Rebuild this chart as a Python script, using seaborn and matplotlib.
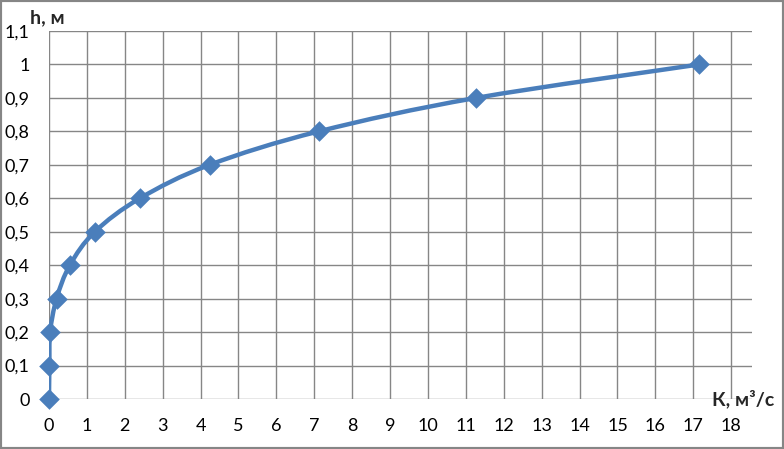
import numpy as np
import pandas as pd
import matplotlib.pyplot as plt
import seaborn as sns
from matplotlib.path import Path
from matplotlib.patches import PathPatch, Rectangle
from matplotlib.ticker import FuncFormatter

# расход К (м3/с) и глубина h (м)
K = [0.0, 0.01, 0.03, 0.2, 0.55, 1.21, 2.40, 4.24, 7.12, 11.27, 17.16]
h = [0.0, 0.1, 0.2, 0.3, 0.4, 0.5, 0.6, 0.7, 0.8, 0.9, 1.0]
df = pd.DataFrame({'K': K, 'h': h})

sns.set_style("white")
plt.rcParams['font.family'] = ['Lato', 'DejaVu Sans']
color = '#4A7EBB'
grid = '#868686'

fig = plt.figure(figsize=(7.84, 4.49), dpi=100)
ax = fig.add_axes([49/784, 1 - 399/449, (752 - 49)/784, (399 - 31)/449])

# сглаженная линия как в Excel (кривые Безье)
pts = df[['K', 'h']].to_numpy()
verts = [pts[0]]
codes = [Path.MOVETO]
n = len(pts)
for i in range(n - 1):
    p0 = pts[i - 1] if i > 0 else pts[i]
    p1, p2 = pts[i], pts[i + 1]
    p3 = pts[i + 2] if i + 2 < n else pts[i + 1]
    verts += [p1 + (p2 - p0) / 6, p2 - (p3 - p1) / 6, p2]
    codes += [Path.CURVE4] * 3
ax.add_patch(PathPatch(Path(verts, codes), fill=False, edgecolor=color,
                       lw=3.2, capstyle='round', zorder=3))

sns.scatterplot(data=df, x='K', y='h', marker='D', s=110, color=color,
                edgecolor=color, linewidth=0, ax=ax, zorder=4, clip_on=False)

ax.set_xlim(0, 18.55)
ax.set_ylim(0, 1.1)
ax.set_xticks(range(0, 19))
ax.set_yticks(np.round(np.arange(0, 1.11, 0.1), 1))
ax.yaxis.set_major_formatter(FuncFormatter(lambda v, p: f'{v:g}'.replace('.', ',')))
ax.grid(True, color=grid, lw=1)
ax.set_axisbelow(True)
for s in ax.spines.values():
    s.set_visible(False)
ax.tick_params(axis='both', length=5, width=1, color=grid, labelsize=13,
               direction='out', pad=9, labelcolor='black')
ax.set_xlabel('')
ax.set_ylabel('')

fig.text(30/784, 1 - 18/449, 'h, м', fontsize=14, fontweight='bold', va='center')
fig.text(712/784, 1 - 399/449, 'К, м³/с', fontsize=14, fontweight='bold', va='center')

fig.patches.append(Rectangle((0, 0), 1, 1, transform=fig.transFigure, fill=False,
                             edgecolor=grid, lw=3))

plt.savefig('out.png', dpi=100)
